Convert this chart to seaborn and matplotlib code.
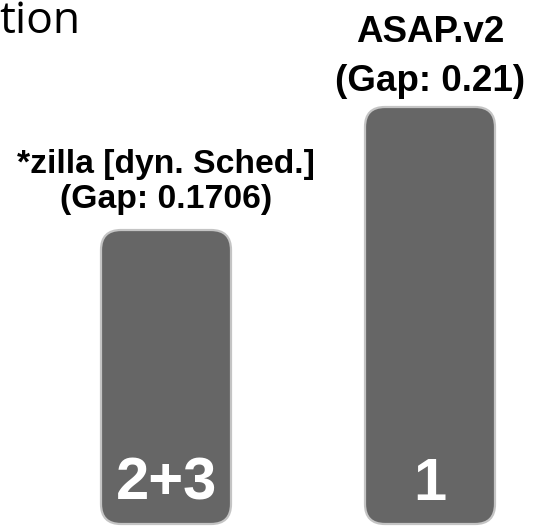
import matplotlib
matplotlib.use("Agg")
import matplotlib.pyplot as plt
import seaborn as sns
import pandas as pd
from matplotlib.patches import FancyBboxPatch

# chart data
systems = ["*zilla [dyn. Sched.]", "ASAP.v2"]
gaps = ["0.1706", "0.21"]
ranks = ["2+3", "1"]
podium_height = [0.705, 1.0]

sns.set_theme(style="white")
plt.rcParams['font.family'] = ['Liberation Sans', 'DejaVu Sans']

df = pd.DataFrame({"system": systems, "height": podium_height})

fig = plt.figure(figsize=(5.37, 5.27), dpi=100)
ax = fig.add_axes([0, 0, 1, 1])

sns.barplot(data=df, x="system", y="height", color="#666666",
            width=130 / 264, saturation=1, ax=ax)

ax.set_xlim(-166 / 264, 1 + 107 / 264)
ax.set_ylim(-3 / 417, 524 / 417)
ax.axis("off")

# swap plain bars for rounded ones
for patch in list(ax.patches):
    x, y = patch.get_x(), patch.get_y()
    w, h = patch.get_width(), patch.get_height()
    rounded = FancyBboxPatch((x, y), w, h,
                             boxstyle="round,pad=0,rounding_size=%f" % (20 / 264),
                             mutation_aspect=264 / 417,
                             facecolor="#666666", edgecolor="#c4c4c4",
                             linewidth=1.6)
    patch.remove()
    ax.add_patch(rounded)

# label look per bar: font size, offset of name line, offset of gap line (pixels)
label_style = [(24.3, 57, 22), (26.5, 65, 16)]

for i, (name, gap, rank, h) in enumerate(zip(systems, gaps, ranks, podium_height)):
    size, off_name, off_gap = label_style[i]
    ax.annotate(name, xy=(i, h), xytext=(0, off_name),
                textcoords="offset pixels", ha="center", va="baseline",
                fontsize=size, fontweight="bold", color="black")
    ax.annotate(f"(Gap: {gap})", xy=(i, h), xytext=(0, off_gap),
                textcoords="offset pixels", ha="center", va="baseline",
                fontsize=size, fontweight="bold", color="black")
    ax.annotate(rank, xy=(i, 0), xytext=(0, 24), textcoords="offset pixels",
                ha="center", va="baseline", fontsize=43, fontweight="bold",
                color="white")

fig.text(80 / 537, 1 - 33 / 527, "tion", ha="right", va="baseline",
         fontsize=32, family=["Open Sans", "DejaVu Sans"], color="black")

fig.savefig("out.png", dpi=100)
